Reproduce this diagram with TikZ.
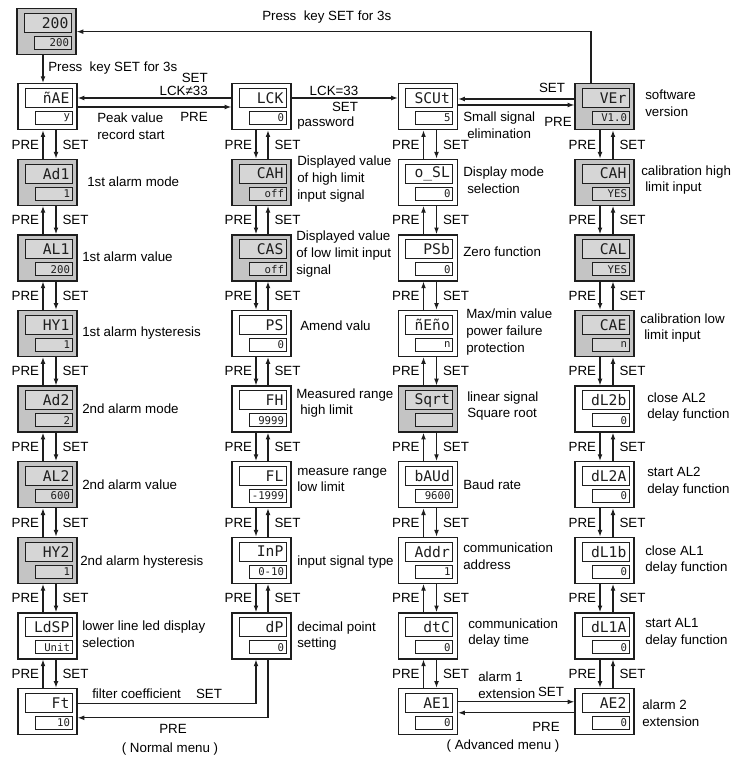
\documentclass[tikz,border=0pt]{standalone}
\usepackage{fontspec}
\setmainfont{Liberation Sans}
\newfontfamily\segfont{DejaVu Sans Mono}
\usetikzlibrary{arrows.meta, positioning, calc}
\definecolor{panelgray}{RGB}{196,196,196}
\definecolor{glassgray}{RGB}{214,214,214}
\definecolor{ink}{RGB}{30,30,30}

\tikzset{
  shell plain/.style={draw=ink, line width=1pt, fill=white, minimum width=44.25pt, minimum height=34.5pt, inner sep=0pt, anchor=north},
  shell lit/.style={shell plain, fill=panelgray},
  glass plain/.style={draw=ink, line width=0.75pt, fill=white, inner ysep=0pt, anchor=north, align=right, text=ink},
  glass lit/.style={glass plain, fill=glassgray},
  upper/.style={inner xsep=2pt, text width=31.25pt, minimum height=14.25pt, font=\segfont\fontsize{11}{11}\selectfont},
  lower/.style={inner xsep=1.5pt, text width=24.75pt, minimum height=9.75pt, font=\segfont\fontsize{8}{8}\selectfont},
  flow/.style={draw=ink, line width=0.8pt, -{Latex[length=5pt,width=3.6pt]}},
  keytag/.style={inner sep=2.5pt},
  note/.style={anchor=west, align=left, inner sep=0pt}
}

% one meter face: name, x, top y, look, upper text, lower text
\newcommand{\panel}[6]{%
  \node[shell #4] (#1) at (#2,#3) {};
  \node[glass #4, upper] (#1u) at ($(#1.north)+(1,5)$) {#5};
  \node[glass #4, lower] (#1l) at ($(#1.north)+(6,28)$) {#6};
}

\begin{document}
\begin{tikzpicture}[x=0.75pt, y=-0.75pt, every node/.style={font=\fontsize{10}{12.5}\selectfont}]
  \useasboundingbox (0,0) rectangle (744,766);

  % Running display
  \panel{run}{46.5}{8}{lit}{200}{200}

  % Normal menu, first column
  \panel{a1}{47.5}{83}{plain}{ñAE}{y}
  \panel{a2}{47.5}{158.6}{lit}{Ad1}{1}
  \panel{a3}{47.5}{234.2}{lit}{AL1}{200}
  \panel{a4}{47.5}{309.8}{lit}{HY1}{1}
  \panel{a5}{47.5}{385.4}{lit}{Ad2}{2}
  \panel{a6}{47.5}{461}{lit}{AL2}{600}
  \panel{a7}{47.5}{536.6}{lit}{HY2}{1}
  \panel{a8}{47.5}{612.2}{plain}{LdSP}{Unit}
  \panel{a9}{47.5}{687.8}{plain}{Ft}{10}

  % Normal menu, second column
  \panel{b1}{261.5}{83}{plain}{LCK}{0}
  \panel{b2}{261.5}{158.6}{lit}{CAH}{off}
  \panel{b3}{261.5}{234.2}{lit}{CAS}{off}
  \panel{b4}{261.5}{309.8}{plain}{PS}{0}
  \panel{b5}{261.5}{385.4}{plain}{FH}{9999}
  \panel{b6}{261.5}{461}{plain}{FL}{-1999}
  \panel{b7}{261.5}{536.6}{plain}{InP}{0-10}
  \panel{b8}{261.5}{612.2}{plain}{dP}{0}

  % Advanced menu, third column
  \panel{c1}{428}{83}{plain}{SCUt}{5}
  \panel{c2}{428}{158.6}{plain}{o\_SL}{0}
  \panel{c3}{428}{234.2}{plain}{PSb}{0}
  \panel{c4}{428}{309.8}{plain}{ñEño}{n}
  \panel{c5}{428}{385.4}{lit}{Sqrt}{}
  \panel{c6}{428}{461}{plain}{bAUd}{9600}
  \panel{c7}{428}{536.6}{plain}{Addr}{1}
  \panel{c8}{428}{612.2}{plain}{dtC}{0}
  \panel{c9}{428}{687.8}{plain}{AE1}{0}

  % Advanced menu, fourth column
  \panel{d1}{604.5}{83}{lit}{VEr}{V1.0}
  \panel{d2}{604.5}{158.6}{lit}{CAH}{YES}
  \panel{d3}{604.5}{234.2}{lit}{CAL}{YES}
  \panel{d4}{604.5}{309.8}{lit}{CAE}{n}
  \panel{d5}{604.5}{385.4}{plain}{dL2b}{0}
  \panel{d6}{604.5}{461}{plain}{dL2A}{0}
  \panel{d7}{604.5}{536.6}{plain}{dL1b}{0}
  \panel{d8}{604.5}{612.2}{plain}{dL1A}{0}
  \panel{d9}{604.5}{687.8}{plain}{AE2}{0}

  % Descriptions
  \node[note] (a1t) at (97,126.5) {Peak value\\record start};
  \node[note] (a2t) at (87,182) {1st alarm mode};
  \node[note] (a3t) at (82,257) {1st alarm value};
  \node[note] (a4t) at (82,333) {1st alarm hysteresis};
  \node[note] (a5t) at (82,409) {2nd alarm mode};
  \node[note] (a6t) at (82,485) {2nd alarm value};
  \node[note] (a7t) at (80,562) {2nd alarm hysteresis};
  \node[note] (a8t) at (82,634) {lower line led display\\selection};
  \node[note] (a9t) at (92,694) {filter coefficient};

  \node[note] (b1t) at (297,123) {password};
  \node[note] (b2t) at (297,179) {Displayed value\\of high limit\\input signal};
  \node[note] (b3t) at (296,254) {Displayed value\\of low limit input\\signal};
  \node[note] (b4t) at (300,326) {Amend valu};
  \node[note] (b5t) at (296,403) {Measured range\\\hspace{3pt}high limit};
  \node[note] (b6t) at (297,480) {measure range\\low limit};
  \node[note] (b7t) at (297,562) {input signal type};
  \node[note] (b8t) at (297,636) {decimal point\\setting};

  \node[note] (c1t) at (463,125) {Small signal\\\hspace{3pt}elimination};
  \node[note] (c2t) at (463,180) {Display mode\\\hspace{3pt}selection};
  \node[note] (c3t) at (463,252) {Zero function};
  \node[note] (c4t) at (466,332) {Max/min value\\power failure\\protection};
  \node[note] (c5t) at (467,406) {linear signal\\Square root};
  \node[note] (c6t) at (463,485) {Baud rate};
  \node[note] (c7t) at (463,556) {communication\\address};
  \node[note] (c8t) at (468,633) {communication\\delay time};
  \node[note] (c9t) at (478,685) {alarm 1\\extension};

  \node[note] (d1t) at (645,103) {software\\version};
  \node[note] (d2t) at (641,180) {calibration high\\\hspace{3pt}limit input};
  \node[note] (d4t) at (640,328) {calibration low\\\hspace{3pt}limit input};
  \node[note] (d5t) at (647,407) {close AL2\\delay function};
  \node[note] (d6t) at (647,482) {start AL2\\delay function};
  \node[note] (d7t) at (645,560) {close AL1\\delay function};
  \node[note] (d8t) at (645,633) {start AL1\\delay function};
  \node[note] (d9t) at (642,713) {alarm 2\\extension};

  % Menu entry
  \draw[flow] ($(run.south)+(-3.5,0)$) -- ($(a1.north)+(-4.5,0)$);
  \node[note] (press1) at (48,68) {Press\ \ key SET for 3s};
  \draw[flow] ($(d1.north)+(-13.5,0)$) |- (run.east);
  \node[note] (press2) at (262,17) {Press\ \ key SET for 3s};

  % Up and down inside the columns
  \foreach \i in {1,...,8} {
    \pgfmathtruncatemacro{\j}{\i+1}
    \draw[flow] ($(a\j.north)+(-4.5,0)$) -- ($(a\i.south)+(-4.5,0)$) node[keytag, midway, left] (pa\i) {PRE};
    \draw[flow] ($(a\i.south)+(8.5,0)$) -- ($(a\j.north)+(8.5,0)$) node[keytag, midway, right=2pt] (sa\i) {SET};
    \draw[flow] ($(c\j.north)+(-4.5,0)$) -- ($(c\i.south)+(-4.5,0)$) node[keytag, midway, left] (pc\i) {PRE};
    \draw[flow] ($(c\i.south)+(8.5,0)$) -- ($(c\j.north)+(8.5,0)$) node[keytag, midway, right=2pt] (sc\i) {SET};
    \draw[flow] ($(d\i.south)+(-4.5,0)$) -- ($(d\j.north)+(-4.5,0)$) node[keytag, midway, left] (pd\i) {PRE};
    \draw[flow] ($(d\j.north)+(8.5,0)$) -- ($(d\i.south)+(8.5,0)$) node[keytag, midway, right=2pt] (sd\i) {SET};
  }
  \foreach \i in {1,...,7} {
    \pgfmathtruncatemacro{\j}{\i+1}
    \draw[flow] ($(b\i.south)+(-5.5,0)$) -- ($(b\j.north)+(-5.5,0)$) node[keytag, midway, left] (pb\i) {PRE};
    \draw[flow] ($(b\j.north)+(6.5,0)$) -- ($(b\i.south)+(6.5,0)$) node[keytag, midway, right=2pt] (sb\i) {SET};
  }

  % Password gate
  \draw[flow] ($(b1.north west)+(0,15)$) -- ($(a1.north east)+(0,15)$);
  \draw[flow] ($(a1.north east)+(0,24)$) -- ($(b1.north west)+(0,24)$);
  \node[anchor=east, inner sep=0pt] (gset) at (208,78) {SET};
  \node[anchor=east, inner sep=0pt] (gno) at (208,91) {LCK≠33};
  \node[anchor=east, inner sep=0pt] (gpre) at (208,117) {PRE};
  \draw[flow] ($(b1.north east)+(0,15)$) -- ($(c1.north west)+(0,15)$);
  \node (gyes) at (334,91) {LCK=33};
  \node (gset2) at (345,107) {SET};

  % Advanced menu loop back
  \draw[flow] ($(d1.north west)+(0,16)$) -- ($(c1.north east)+(0,16)$);
  \draw[flow] ($(c1.north east)+(0,22)$) -- ($(d1.north west)+(0,22)$);
  \node (vset) at (552,88) {SET};
  \node (vpre) at (558,122) {PRE};

  % Normal menu loop back
  \draw[flow] ($(a9.north east)+(0,16)$) -| ($(b8.south)+(-5.5,0)$);
  \draw[flow] ($(b8.south)+(6.5,0)$) |- ($(a9.north east)+(0,30)$);
  \node (fset) at (209,694) {SET};
  \node (fpre) at (173,729) {PRE};

  % Alarm extensions
  \draw[flow] ($(c9.north east)+(0,14)$) -- ($(d9.north west)+(0,14)$);
  \draw[flow] ($(d9.north west)+(0,25)$) -- ($(c9.north east)+(0,25)$);
  \node (xset) at (551,692) {SET};
  \node (xpre) at (546,727) {PRE};

  % Captions
  \node (normal) at (170,749) {( Normal menu )};
  \node (advanced) at (503,746) {( Advanced menu )};
\end{tikzpicture}
\end{document}
